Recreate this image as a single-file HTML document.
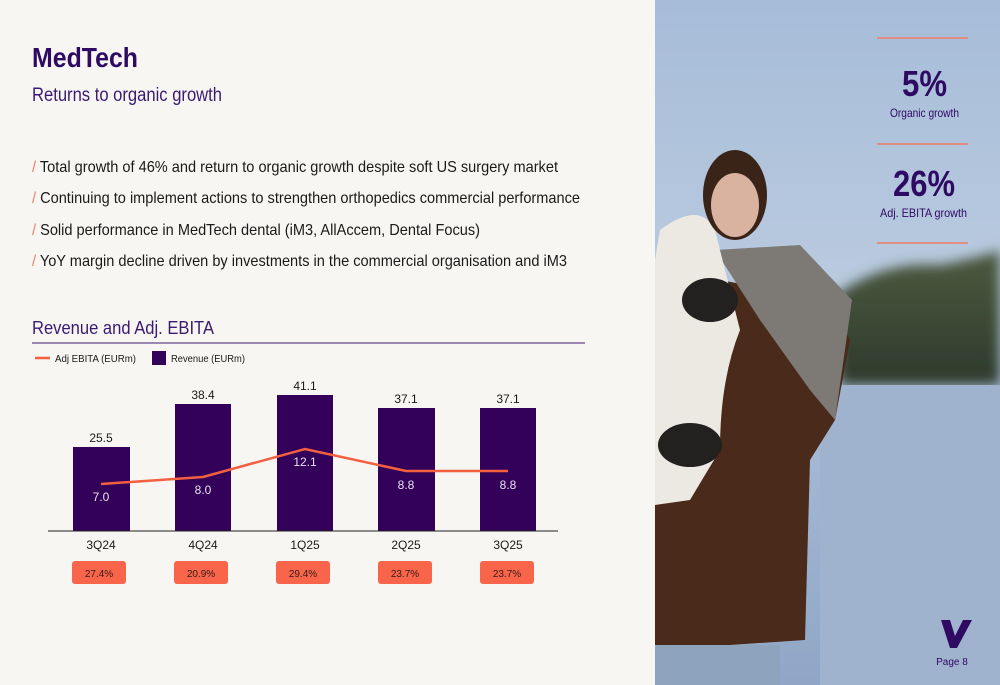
<!DOCTYPE html>
<html><head><meta charset="utf-8"><style>
html,body{margin:0;padding:0;background:#f7f6f3;}
svg{display:block;font-family:"Liberation Sans",Arial,sans-serif;}
</style></head><body>
<svg width="1000" height="685" viewBox="0 0 1000 685" xmlns="http://www.w3.org/2000/svg">
<defs>
<linearGradient id="sky" x1="0" y1="0" x2="0" y2="1">
<stop offset="0" stop-color="#a6bcd8"/><stop offset="0.4" stop-color="#b9cadf"/><stop offset="0.55" stop-color="#a9bed8"/><stop offset="1" stop-color="#8fa6c6"/>
</linearGradient>
<linearGradient id="tree" x1="0" y1="0" x2="0" y2="1">
<stop offset="0" stop-color="#4c5a40"/><stop offset="1" stop-color="#2e3a2c"/>
</linearGradient>
<filter id="bl"><feGaussianBlur stdDeviation="6"/></filter>
</defs>
<rect width="1000" height="685" fill="#f7f6f3"/>
<rect x="655" y="0" width="345" height="685" fill="url(#sky)"/>
<path d="M830 300 Q880 260 940 265 Q990 255 1000 250 L1000 385 L840 385 Z" fill="url(#tree)" filter="url(#bl)"/>
<rect x="820" y="385" width="180" height="300" fill="#9fb3cf"/>
<path d="M655 300 L720 280 L830 300 L850 340 L835 420 L810 460 L805 640 L655 650 Z" fill="#4a2a1a"/>
<path d="M715 250 L800 245 L852 300 L835 420 L810 390 L760 320 Z" fill="#7d7a76"/>
<path d="M660 230 Q700 200 715 230 L740 330 Q720 380 720 450 L690 500 L655 505 L655 260 Z" fill="#ece8e2"/>
<ellipse cx="735" cy="195" rx="32" ry="45" fill="#3a2418"/>
<ellipse cx="735" cy="205" rx="24" ry="32" fill="#d9b3a0"/>
<ellipse cx="710" cy="300" rx="28" ry="22" fill="#232020"/>
<ellipse cx="690" cy="445" rx="32" ry="22" fill="#232020"/>
<rect x="655" y="645" width="125" height="40" fill="#8ea3bd"/>
<line x1="877" y1="38" x2="968" y2="38" stroke="#ef7d66" stroke-width="1.5"/>
<line x1="877" y1="144" x2="968" y2="144" stroke="#ef7d66" stroke-width="1.5"/>
<line x1="877" y1="243" x2="968" y2="243" stroke="#ef7d66" stroke-width="1.5"/>
<text x="902" y="96" font-size="36" font-weight="bold" fill="#2e0a63" textLength="45" lengthAdjust="spacingAndGlyphs">5%</text>
<text x="890" y="117" font-size="12" fill="#2e0a63" textLength="69" lengthAdjust="spacingAndGlyphs">Organic growth</text>
<text x="893" y="196" font-size="36" font-weight="bold" fill="#2e0a63" textLength="62" lengthAdjust="spacingAndGlyphs">26%</text>
<text x="880" y="217" font-size="12" fill="#2e0a63" textLength="87" lengthAdjust="spacingAndGlyphs">Adj. EBITA growth</text>
<path d="M941 620 L950 620 L955 636 L963 620 L972 620 L957 648 L950 648 Z" fill="#2e0a63"/>
<text x="952" y="665" text-anchor="middle" font-size="10" fill="#2e0a63">Page 8</text>
<text x="32" y="67" font-size="28" font-weight="bold" fill="#2e0a63" textLength="106" lengthAdjust="spacingAndGlyphs">MedTech</text>
<text x="32" y="101" font-size="19" fill="#3c1a70" textLength="190" lengthAdjust="spacingAndGlyphs">Returns to organic growth</text>
<g font-size="16" fill="#1a1a1a">
<text x="32" y="172" textLength="526" lengthAdjust="spacingAndGlyphs"><tspan fill="#ef7d66">/ </tspan>Total growth of 46% and return to organic growth despite soft US surgery market</text>
<text x="32" y="203" textLength="548" lengthAdjust="spacingAndGlyphs"><tspan fill="#ef7d66">/ </tspan>Continuing to implement actions to strengthen orthopedics commercial performance</text>
<text x="32" y="235" textLength="448" lengthAdjust="spacingAndGlyphs"><tspan fill="#ef7d66">/ </tspan>Solid performance in MedTech dental (iM3, AllAccem, Dental Focus)</text>
<text x="32" y="266" textLength="535" lengthAdjust="spacingAndGlyphs"><tspan fill="#ef7d66">/ </tspan>YoY margin decline driven by investments in the commercial organisation and iM3</text>
</g>
<text x="32" y="334" font-size="18" fill="#3c1a70" textLength="182" lengthAdjust="spacingAndGlyphs">Revenue and Adj. EBITA</text>
<line x1="32" y1="343" x2="585" y2="343" stroke="#3c1a70" stroke-width="1"/>
<line x1="35" y1="358" x2="50" y2="358" stroke="#f3603f" stroke-width="2.5"/>
<text x="55" y="362" font-size="10" fill="#1a1a1a" textLength="81" lengthAdjust="spacingAndGlyphs">Adj EBITA (EURm)</text>
<rect x="152" y="351" width="14" height="14" fill="#33005a"/>
<text x="171" y="362" font-size="10" fill="#1a1a1a" textLength="74" lengthAdjust="spacingAndGlyphs">Revenue (EURm)</text>
<g fill="#33005a">
<rect x="73" y="447" width="57" height="84"/>
<rect x="175" y="404" width="56" height="127"/>
<rect x="277" y="395" width="56" height="136"/>
<rect x="378" y="408" width="57" height="123"/>
<rect x="480" y="408" width="56" height="123"/>
</g>
<line x1="48" y1="531" x2="558" y2="531" stroke="#222" stroke-width="1"/>
<g font-size="12" fill="#1a1a1a" text-anchor="middle">
<text x="101" y="442">25.5</text><text x="203" y="399">38.4</text><text x="305" y="390">41.1</text><text x="406" y="403">37.1</text><text x="508" y="403">37.1</text>
<text x="101" y="549">3Q24</text><text x="203" y="549">4Q24</text><text x="305" y="549">1Q25</text><text x="406" y="549">2Q25</text><text x="508" y="549">3Q25</text>
</g>
<polyline points="101,484 203,477 305,449 406,471 508,471" fill="none" stroke="#f3603f" stroke-width="2.5"/>
<g font-size="12" fill="#e8e2f0" text-anchor="middle">
<text x="101" y="501">7.0</text><text x="203" y="494">8.0</text><text x="305" y="466">12.1</text><text x="406" y="489">8.8</text><text x="508" y="489">8.8</text>
</g>
<g fill="#f8654a">
<rect x="72" y="561" width="54" height="23" rx="3"/><rect x="174" y="561" width="54" height="23" rx="3"/><rect x="276" y="561" width="54" height="23" rx="3"/><rect x="378" y="561" width="54" height="23" rx="3"/><rect x="480" y="561" width="54" height="23" rx="3"/>
</g>
<g font-size="10" fill="#3a1a1a" text-anchor="middle">
<text x="99" y="577">27.4%</text><text x="201" y="577">20.9%</text><text x="303" y="577">29.4%</text><text x="405" y="577">23.7%</text><text x="507" y="577">23.7%</text>
</g>
</svg>
</body></html>
